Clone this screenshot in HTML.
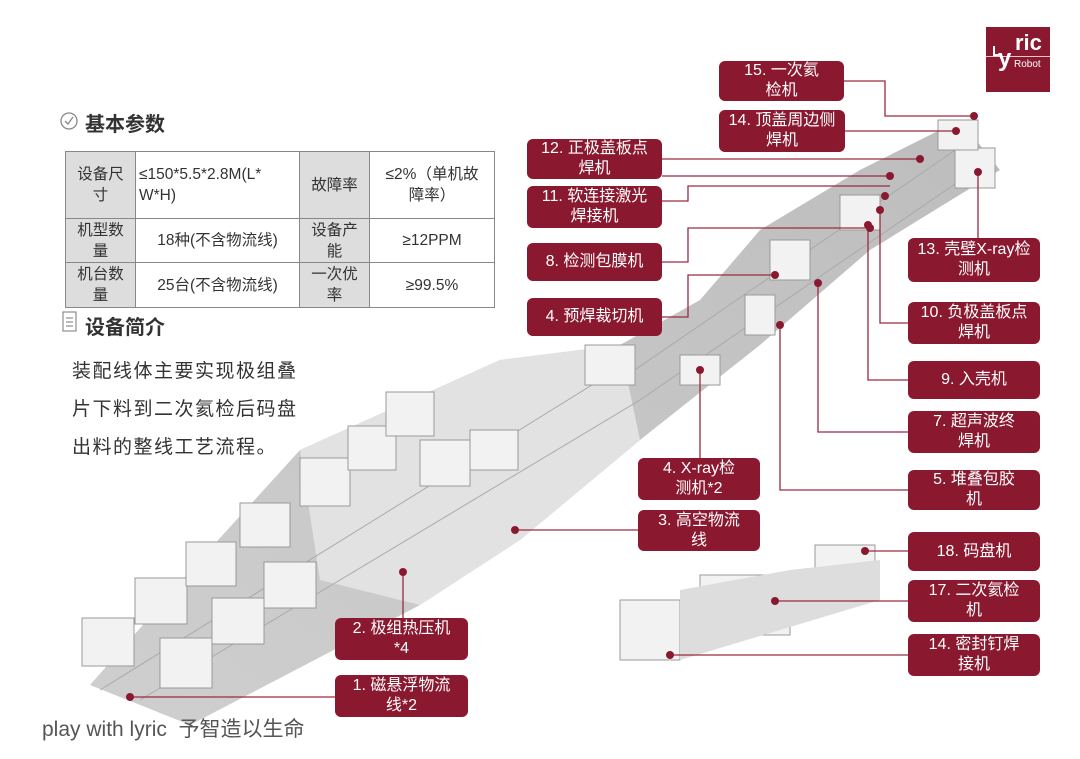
<!DOCTYPE html>
<html><head><meta charset="utf-8"><style>
body{margin:0;width:1080px;height:759px;background:#fff;position:relative;overflow:hidden;font-family:"Liberation Sans","Noto Sans CJK SC",sans-serif;}
.lb{position:absolute;background:#8a1930;color:#fff;border-radius:6px;font-size:16px;line-height:20px;text-align:center;display:flex;align-items:center;justify-content:center;}
table{position:absolute;left:65px;top:151px;border-collapse:collapse;font-size:15.5px;color:#333;}
td{border:1px solid #888;text-align:center;padding:0 3px;line-height:21px;}
td.h{background:#ddd;}
.t{position:absolute;color:#333;}
</style></head><body>
<svg width="1080" height="759" style="position:absolute;left:0;top:0">
<defs><linearGradient id="g" x1="0" y1="1" x2="1" y2="0"><stop offset="0" stop-color="#cfcfcf"/><stop offset="1" stop-color="#bdbdbd"/></linearGradient></defs>
<polygon points="90,685 190,725 420,605 520,540 640,440 760,345 870,250 1000,170 960,120 860,170 760,230 700,300 620,345 500,360 300,450 200,560" fill="url(#g)"/>
<polygon points="300,450 500,360 620,345 640,440 520,540 420,605 320,580" fill="#e2e2e2"/>
<g stroke="#aaa" stroke-width="1" fill="none">
<line x1="100" y1="690" x2="600" y2="380"/><line x1="140" y1="700" x2="640" y2="400"/><line x1="640" y1="400" x2="990" y2="160"/><line x1="620" y1="380" x2="970" y2="140"/>
</g>
<g fill="#f2f2f2" stroke="#999" stroke-width="1">
<rect x="82" y="618" width="52" height="48"/><rect x="135" y="578" width="52" height="46"/><rect x="186" y="542" width="50" height="44"/><rect x="240" y="503" width="50" height="44"/>
<rect x="160" y="638" width="52" height="50"/><rect x="212" y="598" width="52" height="46"/><rect x="264" y="562" width="52" height="46"/>
<rect x="300" y="458" width="50" height="48"/><rect x="348" y="426" width="48" height="44"/><rect x="386" y="392" width="48" height="44"/><rect x="420" y="440" width="50" height="46"/><rect x="470" y="430" width="48" height="40"/>
<rect x="585" y="345" width="50" height="40"/><rect x="680" y="355" width="40" height="30"/><rect x="745" y="295" width="30" height="40"/>
<rect x="770" y="240" width="40" height="40"/><rect x="840" y="195" width="40" height="35"/>
<rect x="955" y="148" width="40" height="40"/><rect x="938" y="120" width="40" height="30"/>
<rect x="620" y="600" width="60" height="60"/><rect x="700" y="575" width="90" height="60"/><rect x="815" y="545" width="60" height="50"/>
</g>
<polygon points="680,660 880,600 880,560 790,570 680,590" fill="#ddd"/>
<g stroke="#9a2a40" stroke-width="1.3" fill="none">
<polyline points="844,81 885,81 885,116 974,116"/><polyline points="845,131 956,131"/>
<polyline points="662,159 920,159"/><polyline points="662,176 890,176"/>
<polyline points="662,201 688,201 688,186 890,186"/><polyline points="662,262 688,262 688,228 870,228"/>
<polyline points="662,317 688,317 688,275 775,275"/>
<polyline points="760,478 700,478 700,370"/><polyline points="760,530 515,530"/>
<polyline points="403,618 403,572"/><polyline points="335,697 130,697"/>
<polyline points="908,260 978,260 978,172"/><polyline points="908,323 880,323 880,210"/>
<polyline points="908,380 868,380 868,225"/><polyline points="908,432 818,432 818,283"/>
<polyline points="908,490 780,490 780,325"/><polyline points="908,551 865,551"/>
<polyline points="908,601 775,601"/><polyline points="908,655 670,655"/>
</g>
<g fill="#8a1930"><circle cx="974" cy="116" r="4"/><circle cx="956" cy="131" r="4"/><circle cx="920" cy="159" r="4"/><circle cx="890" cy="176" r="4"/><circle cx="885" cy="196" r="4"/><circle cx="870" cy="228" r="4"/><circle cx="775" cy="275" r="4"/><circle cx="700" cy="370" r="4"/><circle cx="515" cy="530" r="4"/><circle cx="403" cy="572" r="4"/><circle cx="130" cy="697" r="4"/><circle cx="978" cy="172" r="4"/><circle cx="880" cy="210" r="4"/><circle cx="868" cy="225" r="4"/><circle cx="818" cy="283" r="4"/><circle cx="780" cy="325" r="4"/><circle cx="865" cy="551" r="4"/><circle cx="775" cy="601" r="4"/><circle cx="670" cy="655" r="4"/></g>
<circle cx="69" cy="121" r="8" fill="none" stroke="#888" stroke-width="1.3"/><polyline points="65,121 68,124 73,117" fill="none" stroke="#888" stroke-width="1.3"/>
<rect x="63" y="312" width="13" height="19" fill="none" stroke="#777"/><g stroke="#777"><line x1="66" y1="318" x2="73" y2="318"/><line x1="66" y1="322" x2="73" y2="322"/><line x1="66" y1="326" x2="73" y2="326"/></g>
</svg>
<div style="position:absolute;left:986px;top:27px;width:64px;height:65px;background:#8a1930;color:#fff;overflow:hidden">
<div style="position:absolute;left:7px;top:19px;width:2px;height:10px;background:#fff"></div>
<div style="position:absolute;left:7px;top:27px;width:6px;height:2px;background:#fff"></div>
<div style="position:absolute;left:29px;top:5px;font-size:22px;font-weight:bold;line-height:22px">ric</div>
<div style="position:absolute;left:0;top:29px;width:64px;height:1px;background:#e8c8cc"></div>
<div style="position:absolute;left:12px;top:19px;font-size:24px;font-weight:bold;line-height:26px">y</div>
<div style="position:absolute;left:28px;top:32px;font-size:10px">Robot</div></div>
<div class="t" style="left:85px;top:108px;font-size:20px;font-weight:bold">基本参数</div>
<table><tr style="height:67px"><td class="h" style="width:63px">设备尺<br>寸</td><td style="width:157px;text-align:left">≤150*5.5*2.8M(L*<br>W*H)</td><td class="h" style="width:63px">故障率</td><td style="width:118px">≤2%（单机故<br>障率）</td></tr>
<tr style="height:44px"><td class="h">机型数<br>量</td><td>18种(不含物流线)</td><td class="h">设备产<br>能</td><td>≥12PPM</td></tr>
<tr style="height:45px"><td class="h">机台数<br>量</td><td>25台(不含物流线)</td><td class="h">一次优<br>率</td><td>≥99.5%</td></tr></table>
<div class="t" style="left:85px;top:311px;font-size:20px;font-weight:bold">设备简介</div>
<div class="t" style="left:72px;top:353px;font-size:19px;line-height:38px;letter-spacing:1.5px">装配线体主要实现极组叠<br>片下料到二次氦检后码盘<br>出料的整线工艺流程。</div>
<div class="t" style="left:42px;top:713px;font-size:21px;color:#555">play with lyric &nbsp;予智造以生命</div>
<div class="lb" style="left:719px;top:61px;width:125px;height:40px">15. 一次氦<br>检机</div>
<div class="lb" style="left:719px;top:110px;width:126px;height:42px">14. 顶盖周边侧<br>焊机</div>
<div class="lb" style="left:527px;top:139px;width:135px;height:40px">12. 正极盖板点<br>焊机</div>
<div class="lb" style="left:527px;top:186px;width:135px;height:42px">11. 软连接激光<br>焊接机</div>
<div class="lb" style="left:527px;top:243px;width:135px;height:38px">8. 检测包膜机</div>
<div class="lb" style="left:527px;top:298px;width:135px;height:38px">4. 预焊裁切机</div>
<div class="lb" style="left:638px;top:458px;width:122px;height:42px">4. X-ray检<br>测机*2</div>
<div class="lb" style="left:638px;top:510px;width:122px;height:41px">3. 高空物流<br>线</div>
<div class="lb" style="left:335px;top:618px;width:133px;height:42px">2. 极组热压机<br>*4</div>
<div class="lb" style="left:335px;top:675px;width:133px;height:42px">1. 磁悬浮物流<br>线*2</div>
<div class="lb" style="left:908px;top:238px;width:132px;height:44px">13. 壳壁X-ray检<br>测机</div>
<div class="lb" style="left:908px;top:302px;width:132px;height:42px">10. 负极盖板点<br>焊机</div>
<div class="lb" style="left:908px;top:361px;width:132px;height:38px">9. 入壳机</div>
<div class="lb" style="left:908px;top:411px;width:132px;height:42px">7. 超声波终<br>焊机</div>
<div class="lb" style="left:908px;top:470px;width:132px;height:40px">5. 堆叠包胶<br>机</div>
<div class="lb" style="left:908px;top:532px;width:132px;height:39px">18. 码盘机</div>
<div class="lb" style="left:908px;top:580px;width:132px;height:42px">17. 二次氦检<br>机</div>
<div class="lb" style="left:908px;top:634px;width:132px;height:42px">14. 密封钉焊<br>接机</div>
</body></html>
